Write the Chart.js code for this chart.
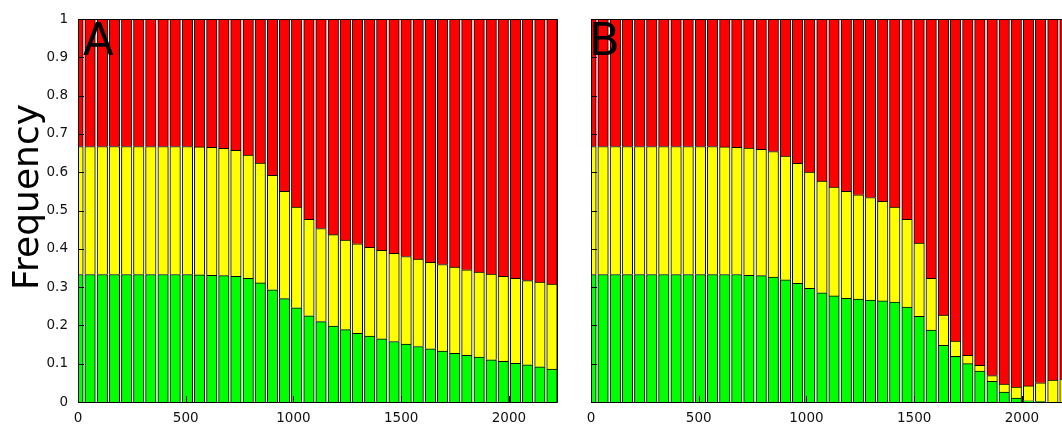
<!DOCTYPE html>
<html>
<head>
<meta charset="utf-8">
<script src="https://cdn.jsdelivr.net/npm/chart.js@4.4.1/dist/chart.umd.min.js"></script>
<style>
  html, body { margin: 0; padding: 0; overflow: hidden; background: #ffffff; width: 1062px; height: 425px; }
  .panel { position: absolute; top: 0; width: 565px; height: 425px; }
  #panelA { left: 0; }
  #panelB { left: 513px; }
</style>
</head>
<body>
<div class="panel" id="panelA"><canvas id="chartA" width="565" height="425"></canvas></div>
<div class="panel" id="panelB"><canvas id="chartB" width="565" height="425"></canvas></div>
<script>
// Sampling points along the x axis (bar centres)
const xPositions = [0, 56, 113, 169, 226, 282, 338, 395, 451, 508,
  564, 621, 677, 733, 790, 846, 903, 959, 1015, 1072,
  1128, 1185, 1241, 1297, 1354, 1410, 1467, 1523, 1579, 1636,
  1692, 1749, 1805, 1862, 1918, 1974, 2031, 2087, 2144, 2200];

const xTickValues = [0, 500, 1000, 1500, 2000];
const yTickValues = [0, 0.1, 0.2, 0.3, 0.4, 0.5, 0.6, 0.7, 0.8, 0.9, 1];
const yTickLabels = ['0', '0.1', '0.2', '0.3', '0.4', '0.5', '0.6', '0.7', '0.8', '0.9', '1'];

// Panel A frequencies
const greenA = [0.333, 0.333, 0.333, 0.333, 0.333, 0.333, 0.333, 0.333, 0.333, 0.333,
  0.332, 0.331, 0.330, 0.328, 0.323, 0.311, 0.293, 0.270, 0.246, 0.225,
  0.210, 0.198, 0.189, 0.179, 0.172, 0.165, 0.158, 0.151, 0.145, 0.139,
  0.133, 0.127, 0.122, 0.117, 0.110, 0.106, 0.101, 0.097, 0.092, 0.086];
const yellowA = [0.334, 0.334, 0.334, 0.334, 0.334, 0.334, 0.334, 0.334, 0.334, 0.334,
  0.334, 0.334, 0.332, 0.329, 0.322, 0.313, 0.299, 0.280, 0.263, 0.252,
  0.243, 0.239, 0.234, 0.234, 0.232, 0.231, 0.230, 0.229, 0.228, 0.226,
  0.226, 0.225, 0.223, 0.222, 0.224, 0.222, 0.222, 0.220, 0.221, 0.222];
const redA = [0.333, 0.333, 0.333, 0.333, 0.333, 0.333, 0.333, 0.333, 0.333, 0.333,
  0.334, 0.335, 0.338, 0.343, 0.355, 0.376, 0.408, 0.450, 0.491, 0.523,
  0.547, 0.563, 0.577, 0.587, 0.596, 0.604, 0.612, 0.620, 0.627, 0.635,
  0.641, 0.648, 0.655, 0.661, 0.666, 0.672, 0.677, 0.683, 0.687, 0.692];

// Panel B frequencies
const greenB = [0.333, 0.333, 0.333, 0.333, 0.333, 0.333, 0.333, 0.333, 0.333, 0.333,
  0.333, 0.333, 0.333, 0.331, 0.330, 0.326, 0.319, 0.310, 0.297, 0.285,
  0.277, 0.271, 0.269, 0.266, 0.264, 0.261, 0.248, 0.224, 0.188, 0.148,
  0.119, 0.100, 0.081, 0.054, 0.026, 0.010, 0.003, 0.001, 0, 0];
const yellowB = [0.334, 0.334, 0.334, 0.334, 0.334, 0.334, 0.334, 0.334, 0.334, 0.334,
  0.334, 0.333, 0.332, 0.332, 0.330, 0.328, 0.323, 0.313, 0.303, 0.292,
  0.284, 0.279, 0.272, 0.268, 0.260, 0.248, 0.229, 0.191, 0.135, 0.079,
  0.040, 0.022, 0.015, 0.015, 0.021, 0.029, 0.039, 0.049, 0.057, 0.060];
const redB = [0.333, 0.333, 0.333, 0.333, 0.333, 0.333, 0.333, 0.333, 0.333, 0.333,
  0.333, 0.334, 0.335, 0.337, 0.340, 0.346, 0.358, 0.377, 0.400, 0.423,
  0.439, 0.450, 0.459, 0.466, 0.476, 0.491, 0.523, 0.585, 0.677, 0.773,
  0.841, 0.878, 0.904, 0.931, 0.953, 0.961, 0.958, 0.950, 0.943, 0.940];

const FONT = "'DejaVu Sans', 'Liberation Sans', sans-serif";

function series(values) {
  return xPositions.map((x, i) => ({ x: x, y: values[i] }));
}

function dataset(values, color) {
  return {
    data: series(values),
    backgroundColor: color,
    borderColor: '#000000',
    borderWidth: 1,
    barThickness: 10.5,
    clip: 0
  };
}

// Frame and inward tick marks drawn on top of the bars
const framePlugin = {
  id: 'frame',
  afterDatasetsDraw(chart) {
    const { ctx, chartArea } = chart;
    const xs = chart.scales.x, ys = chart.scales.y;
    ctx.save();
    ctx.strokeStyle = '#000000';
    ctx.lineWidth = 1;
    const l = chartArea.left + 0.5, r = chartArea.right - 0.5;
    const t = chartArea.top + 0.5, b = chartArea.bottom + 0.5;
    ctx.beginPath();
    ctx.moveTo(l, t); ctx.lineTo(l, b); ctx.lineTo(r, b); ctx.lineTo(r, t); ctx.lineTo(l, t);
    ctx.stroke();
    ctx.beginPath();
    yTickValues.forEach(v => {
      const py = Math.round(ys.getPixelForValue(v)) + 0.5;
      ctx.moveTo(chartArea.left, py); ctx.lineTo(chartArea.left + 6, py);
    });
    xTickValues.forEach(v => {
      const px = Math.round(xs.getPixelForValue(v)) + 0.5;
      ctx.moveTo(px, chartArea.bottom); ctx.lineTo(px, chartArea.bottom - 6);
    });
    ctx.stroke();
    ctx.restore();
  }
};

// Panel letter and axis caption
function labelPlugin(letter, letterX, showCaption) {
  return {
    id: 'labels' + letter,
    afterDraw(chart) {
      const ctx = chart.ctx;
      ctx.save();
      ctx.fillStyle = '#000000';
      ctx.textBaseline = 'alphabetic';
      ctx.textAlign = 'left';
      ctx.font = '45px ' + FONT;
      ctx.fillText(letter, letterX, 55);
      if (showCaption) {
        ctx.translate(38, 197);
        ctx.rotate(-Math.PI / 2);
        ctx.textAlign = 'center';
        ctx.font = '36px ' + FONT;
        ctx.fillText('Frequency', 0, 0);
      }
      ctx.restore();
    }
  };
}

function makeChart(id, green, yellow, red, showYLabels, letter, letterX) {
  return new Chart(document.getElementById(id), {
    type: 'bar',
    data: {
      datasets: [
        dataset(green, '#00ff00'),
        dataset(yellow, '#ffff00'),
        dataset(red, '#ff0000')
      ]
    },
    options: {
      responsive: false,
      animation: false,
      events: [],
      layout: { padding: { left: 0, right: 7, top: 19, bottom: 0 } },
      plugins: { legend: { display: false }, tooltip: { enabled: false } },
      scales: {
        x: {
          type: 'linear',
          stacked: true,
          offset: false,
          min: 0,
          max: 2228,
          grid: { display: false, drawTicks: false, offset: false },
          border: { display: false },
          afterBuildTicks(scale) { scale.ticks = xTickValues.map(v => ({ value: v })); },
          afterFit(scale) { scale.height = 23; },
          ticks: {
            padding: 8,
            maxRotation: 0,
            autoSkip: false,
            color: '#111111',
            font: { family: FONT, size: 13.5 },
            callback: (v) => String(v)
          }
        },
        y: {
          stacked: true,
          min: 0,
          max: 1,
          grid: { display: false, drawTicks: false },
          border: { display: false },
          afterBuildTicks(scale) { scale.ticks = yTickValues.map(v => ({ value: v })); },
          afterFit(scale) { scale.width = 78; },
          ticks: {
            display: showYLabels,
            padding: 10,
            autoSkip: false,
            color: '#111111',
            font: { family: FONT, size: 13.5 },
            callback: (v, i) => yTickLabels[i]
          }
        }
      }
    },
    plugins: [framePlugin, labelPlugin(letter, letterX, showYLabels)]
  });
}

makeChart('chartA', greenA, yellowA, redA, true, 'A', 83);
makeChart('chartB', greenB, yellowB, redB, false, 'B', 76);
</script>
</body>
</html>
